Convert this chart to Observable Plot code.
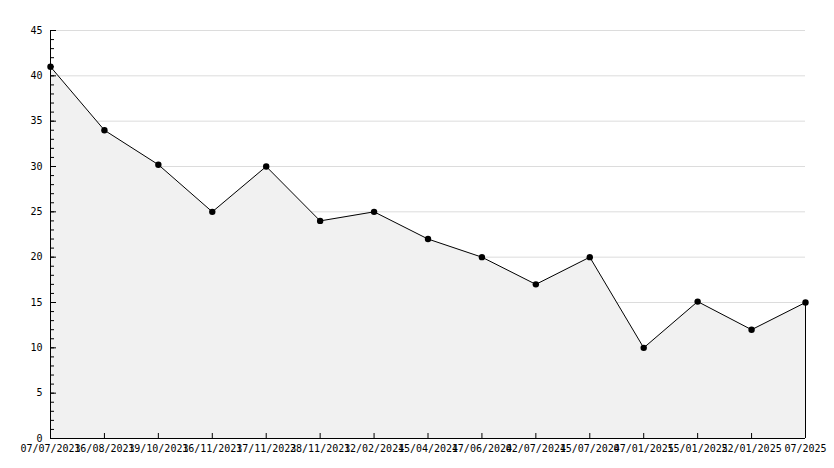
<!DOCTYPE html>
<html>
<head>
<meta charset="utf-8">
<script src="https://cdn.jsdelivr.net/npm/d3@7"></script>
<script src="https://cdn.jsdelivr.net/npm/@observablehq/plot@0.6"></script>
<style>
  html, body { margin: 0; padding: 0; background: #fff; }
  #chart svg { display: block; }
</style>
</head>
<body>
<div id="chart"></div>
<script>
const dates = ["07/07/2023","16/08/2023","19/10/2023","16/11/2023","17/11/2023","28/11/2023","12/02/2024","15/04/2024","17/06/2024","02/07/2024","15/07/2024","07/01/2025","15/01/2025","22/01/2025","07/2025"];
const values = [41, 34, 30.2, 25, 30, 24, 25, 22, 20, 17, 20, 10, 15.1, 12, 15];
const majorTicks = [0, 5, 10, 15, 20, 25, 30, 35, 40, 45];
const minorTicks = d3.range(0, 46, 1);

const data = dates.map((d, i) => ({date: d, value: values[i]}));
const first = dates[0];

const font = "DejaVu Sans Mono, monospace";

const chart = Plot.plot({
  width: 834,
  height: 468,
  marginLeft: 50,
  marginRight: 29,
  marginTop: 30,
  marginBottom: 30,
  style: {fontFamily: font, fontSize: "10px", background: "#fff", color: "#000"},
  x: {type: "point", domain: dates, padding: 0, round: false, label: null},
  y: {domain: [0, 45], label: null},
  marks: [
    Plot.ruleY(majorTicks.filter(d => d > 0), {stroke: "#dcdcdc", strokeWidth: 1}),
    Plot.areaY(data, {x: "date", y: "value", fill: "#f1f1f1", curve: "linear"}),
    Plot.axisY({ticks: minorTicks, tickSize: -4, tickFormat: () => "", stroke: "#000"}),
    Plot.axisY({ticks: majorTicks, tickSize: -6, tickPadding: 14, tickFormat: d => String(d), fill: "#000", stroke: "#000"}),
    Plot.axisX({ticks: dates, tickSize: -5, tickPadding: 11, fill: "#000", stroke: "#000"}),
    Plot.ruleX([first], {y1: 0, y2: 45, stroke: "#000"}),
    Plot.ruleY([0], {stroke: "#000"}),
    Plot.ruleX([data[data.length - 1]], {x: "date", y1: 0, y2: "value", stroke: "#000"}),
    Plot.lineY(data, {x: "date", y: "value", stroke: "#000", strokeWidth: 1}),
    Plot.dot(data, {x: "date", y: "value", r: 3.2, fill: "#000", stroke: "none"})
  ]
});
document.getElementById("chart").appendChild(chart);
</script>
</body>
</html>
